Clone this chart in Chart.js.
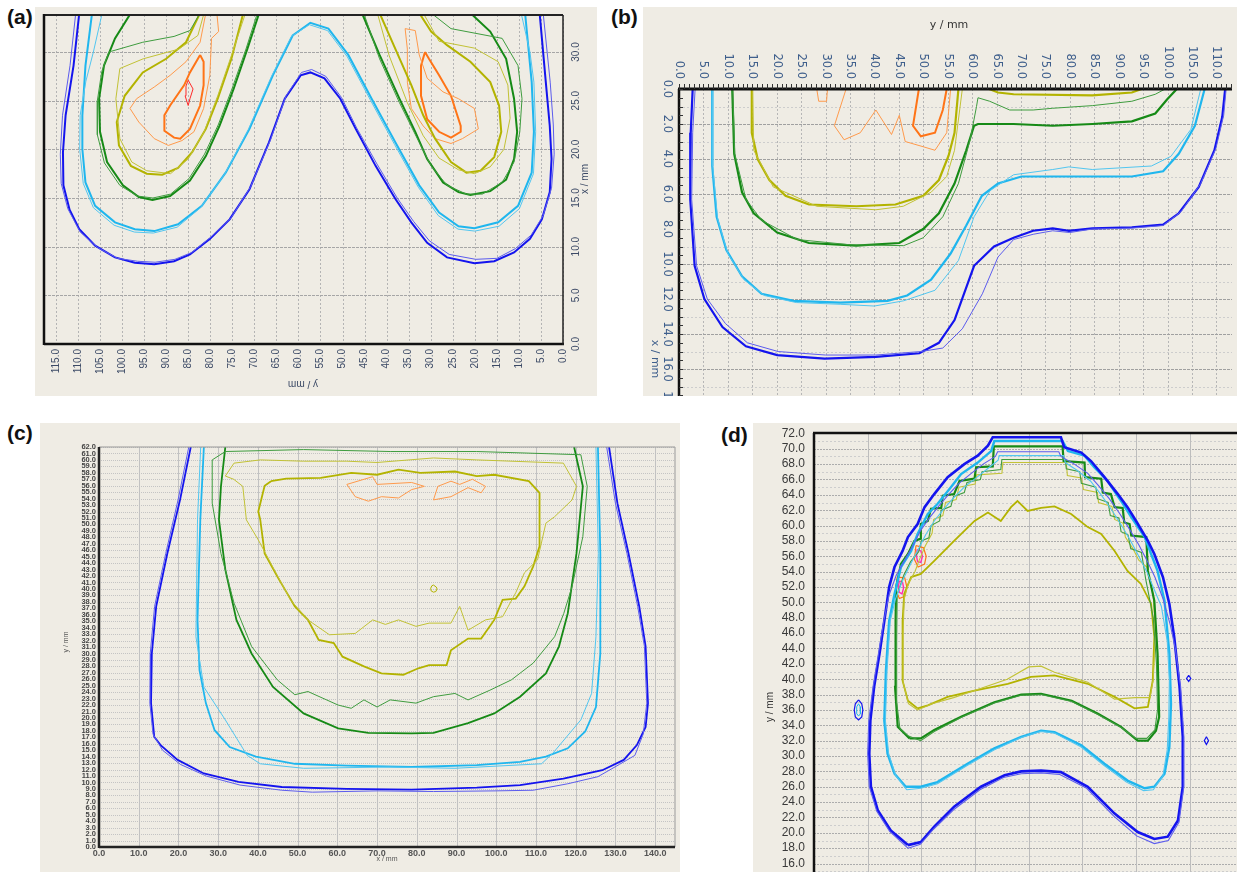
<!DOCTYPE html>
<html>
<head>
<meta charset="utf-8">
<script src="https://cdn.jsdelivr.net/npm/chart.js@4.4.1/dist/chart.umd.min.js"></script>
<style>
  body { margin: 0; background: #fff; width: 1237px; height: 872px; position: relative; overflow: hidden; }
  .box { position: absolute; }
  .tag { position: absolute; font: bold 21px "Liberation Sans", Arial, sans-serif; color: #111; }
</style>
</head>
<body>
<div class="tag" style="left:7px;top:5px">(a)</div>
<div class="tag" style="left:611px;top:5px">(b)</div>
<div class="tag" style="left:7px;top:421px">(c)</div>
<div class="tag" style="left:721px;top:423px">(d)</div>
<div class="box" style="left:35px;top:7px"><canvas id="ca" width="562" height="389"></canvas></div>
<div class="box" style="left:643px;top:7px"><canvas id="cb" width="594" height="389"></canvas></div>
<div class="box" style="left:40px;top:423px"><canvas id="cc" width="640" height="449"></canvas></div>
<div class="box" style="left:753px;top:423px"><canvas id="cd" width="484" height="449"></canvas></div>
<script>
// ---------- tick labels ----------
const aTicksX = [0,5,10,15,20,25,30,35,40,45,50,55,60,65,70,75,80,85,90,95,100,105,110,115];
const aTicksY = [0,5,10,15,20,25,30];
const bTicksX = [0,5,10,15,20,25,30,35,40,45,50,55,60,65,70,75,80,85,90,95,100,105,110];
const bTicksY = [0,2,4,6,8,10,12,14,16,18];
const cTicksX = [0,10,20,30,40,50,60,70,80,90,100,110,120,130,140];
const cTicksY = [0,1,2,3,4,5,6,7,8,9,10,11,12,13,14,15,16,17,18,19,20,21,22,23,24,25,26,27,28,29,30,
  31,32,33,34,35,36,37,38,39,40,41,42,43,44,45,46,47,48,49,50,51,52,53,54,55,56,57,58,59,60,61,62];
const dTicksY = [16,18,20,22,24,26,28,30,32,34,36,38,40,42,44,46,48,50,52,54,56,58,60,62,64,66,68,70,72];

// ---------- panel (a): isodose lines, [y/mm, x/mm] ----------
const aBlue = [[109.7,34],[111,28.6],[112.8,23.5],[113.4,19.7],[113.3,16.3],[111.9,13.8],[109.7,11.8],[106.1,10.1],[101.6,8.9],[97.1,8.35],[92.7,8.2],[88.2,8.5],[84.6,9.2],[80.1,10.8],[75.6,12.8],[71.1,15.9],[66.7,20.7],[63.1,25.2],[59.5,27.6],[57.3,27.9],[54.1,27.3],[50.5,25.2],[47,22.1],[42.5,18.3],[38,14.9],[34.4,12.5],[30.8,10.4],[26.3,8.9],[20.1,8.3],[15.6,8.5],[11.1,9.4],[7.5,10.8],[4.8,12.8],[3,15.6],[2.6,19],[3,22.4],[3.9,26.9],[5.3,34]];
const aBlueThin = [[110.5,34],[111.8,28.6],[113.5,23.5],[114,19.5],[113.8,16.5],[112.3,13.9],[109.5,11.5],[105.5,9.9],[101,8.8],[96.5,8.5],[92.5,8.4],[88,8.7],[84.2,9.4],[79.8,11],[75.2,13],[70.8,16.2],[66.3,21],[62.8,25.5],[59.3,27.9],[57,28.2],[53.8,27.5],[50.2,25.3],[46.8,22.2],[42.2,18.5],[37.6,15],[33.9,12.6],[30.3,10.6],[25.8,9.2],[19.8,8.7],[15,8.8],[10.8,9.8],[7.2,11.2],[4.5,13.2],[2.6,16],[2,19.5],[2.2,22.5],[2.9,26.9],[4.5,34]];
const aCyan = [[106.8,34],[108.3,28.6],[109,23.5],[109,20],[108.3,16.6],[106.1,14.2],[101.6,12.5],[97.1,11.8],[92.7,11.6],[87.3,12.3],[81.9,14.2],[76.5,17.6],[71.1,22.1],[65.8,27.6],[61.3,31.7],[57.3,33],[53.2,32.4],[48.7,29.7],[43.4,25.2],[38,20.7],[32.6,16.3],[28.1,13.5],[23.7,12.1],[20.1,11.9],[14.7,12.5],[10.2,14.2],[7.1,17.6],[6.6,21.8],[7.1,26.9],[8.6,34]];
const aCyanThin = [[104.5,34],[106.5,30],[108.2,27],[109.5,23.5],[109.6,20],[108.8,16.5],[106.5,14],[101.8,12.2],[97.2,11.5],[92.9,11.4],[87.5,12],[82.2,14],[76.8,17.4],[71.4,22],[66.1,27.5],[61.6,31.6],[57.5,32.8],[53.4,32.2],[48.9,29.5],[43.6,25],[38.2,20.5],[32.8,16.1],[28.3,13.2],[23.8,11.8],[20,11.6],[14.5,12.1],[9.9,13.9],[6.7,17.5],[6.2,21.8],[6.6,26.9],[7.5,30],[9.5,34]];
const aGreen = [[98,34],[101.6,31.4],[104.1,28.6],[105.2,25.2],[105,21.8],[103.4,18.7],[99.8,16.3],[96.2,15.1],[93.1,14.8],[89.1,15.2],[84.6,16.8],[81,19.3],[77.9,22.4],[74.7,26.2],[71.6,30.3],[68.9,34]];
const aGreenThin = [[82.3,34],[84.6,32.2],[88.2,31.6],[95.3,31],[103,30],[104.6,28],[105.6,25],[105.6,21.5],[104,18.6],[100.5,16.3],[96.5,15.2],[93,15],[89,15.4],[84.8,17],[81.3,19.5],[78.2,22.5],[75,26.3],[71.9,30.3],[69.3,34]];
const aGreenR = [[45.6,34],[41.6,29.7],[37.1,25.2],[33.5,21.8],[30.8,19],[27.2,16.6],[23.7,15.6],[21,15.3],[16.5,15.7],[12.9,16.9],[11.1,19],[10.4,21.8],[11.1,25.2],[12.9,29.3],[16.5,32.1],[21,34]];
const aGreenThinR = [[29.9,34],[25.4,32.4],[13.8,31.4],[10.2,28.6],[9.3,25.2],[9.8,21.8],[11.1,18.7],[13.8,16.6],[18.3,15.4],[21.9,15.4],[26.3,16.3],[29.9,18.3],[32.6,20.7],[37.1,24.8],[41.6,29.3],[45.2,34]];
const aOlive = [[82.3,34],[85.5,31],[90,29.3],[95.3,27.9],[99.4,25.5],[101.2,22.8],[100.7,20.4],[98,18.3],[94.4,17.5],[90.9,17.4],[87.3,18.1],[84.1,19.7],[81,22.1],[78.3,25.2],[75.2,29.3],[72.5,34]];
const aOliveThin = [[81.4,34],[82.8,31.7],[87.1,30.3],[95.2,29.3],[100.5,28.3],[101.4,25.2],[100.5,21.1],[97.8,18.7],[94.4,17.8],[89,17.5],[85,19],[81.4,21.8],[78.3,25.5],[74.7,30.3],[72,34]];
const aOliveR = [[41.6,34],[38,30.3],[34.4,26.6],[31.7,23.5],[29,21.1],[25.4,18.7],[21.9,17.6],[18.7,17.8],[15.6,19.2],[14,21.8],[14.5,24.5],[16.5,26.9],[21,29],[26.3,30.7],[29.9,32.1],[32.6,34]];
const aOliveThinR = [[31.7,34],[28.1,31.1],[20.1,30.4],[14.7,29],[12.5,26.6],[12,23.2],[13.4,20],[16.5,18.2],[20.1,17.5],[23.7,17.9],[28.1,19.1],[31.7,21.4],[35.3,24.8],[39.4,29.6],[42.1,34]];
const aOrangeThin = [[78.5,34],[78.1,32.1],[79.7,31.4],[80.1,27.6],[81.5,24.2],[83.7,21.8],[86.4,20.9],[89.5,20.4],[92.7,21.1],[96.2,22.8],[98.2,24.2],[96.7,25.2],[92.7,26.4],[89.1,27.6],[85.5,29],[82.3,31],[81,34]];
const aOrange = [[82.3,29.7],[81.5,29],[81.5,26.6],[82.3,24.5],[84.6,22.1],[86.8,21.1],[88.2,21.2],[90.4,21.9],[90.4,23.5],[89.1,24.5],[85.9,26.6],[84.6,27.9],[82.3,29.7]];
const aRed = [[85,27.1],[83.9,26.2],[84.6,25.2],[85,24.5],[85.7,25.5],[85.5,26.5],[85,27.1]];
const aOrangeThinR = [[35.8,32.4],[33.5,32.2],[32.6,29.7],[30.8,27.3],[27.2,25.9],[23.7,25.2],[20.1,24.2],[19.2,22.1],[22.8,21.1],[25.4,20.6],[29,21.1],[31.7,22.4],[34.4,24.2],[35.3,26.9],[35.3,30.3],[35.8,32.4]];
const aOrangeR = [[31.3,30],[30.4,29.3],[28.1,27.6],[25.4,25.5],[23.2,22.4],[23.2,21.8],[25.4,21.2],[28.1,21.8],[30.8,23.1],[32.2,25.5],[32.2,28.6],[31.3,30]];

// ---------- panel (b): [y/mm, x/mm] ----------
const bBlue = [[2.8,0],[2.4,2.5],[2.3,6.3],[3.2,10.1],[5.2,12],[8.9,13.6],[13.7,14.7],[20.1,15.2],[29.8,15.4],[40.3,15.3],[49.2,15.1],[53.2,14.5],[56.4,13.2],[60.4,10.1],[64.5,9],[68.5,8.5],[72.5,8.1],[76.5,7.96],[79.8,8.1],[84.6,7.96],[92.7,7.9],[99.1,7.75],[102.3,7.1],[106.4,5.6],[109.6,3.5],[111.2,1.6],[111.8,0]];
const bBlueThin = [[3.3,0],[2.8,2.5],[2.6,6.3],[3.6,10.1],[5.8,12],[9.5,13.4],[14,14.5],[20.3,15],[30,15.2],[40.3,15.2],[49.5,15],[54,14.8],[58,13.7],[62.1,11.7],[65.3,9.6],[68.5,8.6],[72.5,8.3],[76.5,8.1],[80,8.2],[84.6,8],[92.7,7.95],[99.1,7.8],[102.8,7],[106.8,5.4],[109.9,3.4],[111.5,1.5],[112,0]];
const bCyan = [[6.8,0],[6.8,4.4],[7.7,7.3],[9.7,9.2],[12.9,10.7],[16.9,11.7],[23.4,12.1],[33,12.2],[42.7,12.1],[46.7,11.8],[51.6,10.9],[55.6,9.4],[58.8,7.8],[62,6.1],[65.3,5.4],[70.1,5],[76.5,5],[84.6,5],[92.7,5],[99.1,4.7],[102.3,3.7],[105.6,2.1],[107.6,0]];
const bCyanThin = [[6.9,0],[6.9,4.4],[7.9,7.4],[10,9.4],[13.3,10.9],[17.5,11.8],[24,12.2],[33,12.3],[40,12.4],[46,12.1],[52.4,11.5],[57.2,9.8],[60.4,7.3],[63.7,5.8],[68.5,4.9],[76.5,4.6],[79.8,4.45],[84.6,4.6],[96.7,4.4],[100.7,3.85],[104.8,2.3],[106.8,0]];
const bGreen = [[10.9,0],[11.3,3.7],[12.9,5.9],[15.3,7.1],[20.1,8.2],[26.6,8.8],[36.3,8.95],[45.1,8.8],[50,8],[53.2,7.1],[56.4,5.4],[58.8,3.5],[60.4,2.1],[61.2,2],[68.5,2],[76.5,2.1],[84.6,2],[92.7,1.85],[97.5,1.4],[99.9,0.6],[101.9,0]];
const bGreenThin = [[11,0],[11.4,3.7],[13.7,6.3],[16.9,7.5],[24.2,8.6],[35,8.9],[46,8.95],[50,8.5],[54,7.3],[57.2,5.4],[59.6,2.9],[60.9,1],[61.2,0.5],[63.6,0.7],[67.7,1.2],[72.5,1.2],[76.5,1.1],[84.6,0.95],[92.7,0.7],[97.5,0.3],[99.5,0]];
const bOlive = [[14.9,0],[14.9,2.5],[16.1,4],[18.5,5.2],[21.8,6.1],[26.6,6.6],[36.3,6.7],[44.3,6.6],[50,6.1],[53.2,5.2],[55.2,3.8],[56.4,2.5],[57.2,0]];
const bOliveThin = [[15.1,0],[15.3,3.5],[19.3,5.6],[22.6,6],[28.2,6.7],[40.3,6.9],[45.9,6.7],[51.6,5.9],[54.8,5],[56.4,3.5],[58,0]];
const bOliveTop = [[63.5,0],[65.3,0.2],[68.5,0.3],[84.6,0.36],[92.7,0.2],[94.7,0]];
const bOrangeThin = [[34.2,0],[31.8,2.1],[33.8,2.9],[37.1,2.5],[40.3,1.2],[43.5,2.6],[45.1,1.5],[46.3,3],[50,3.3],[52.4,3.5],[54.8,2.5],[55.6,0]];
const bOrangeSmall = [[28.2,0],[28.6,0.7],[30.2,0.7],[30.4,0]];
const bOrange = [[49.1,0],[47.9,2.1],[49.5,2.7],[52.4,2.5],[54,1.2],[54.8,0]];

// ---------- panel (c): [x/mm, y/mm] ----------
const cBlue = [[23.1,62],[20.4,53.8],[17.2,45.5],[14.4,37.3],[13.3,30],[13.1,22.3],[13.9,17.1],[15.5,15.8],[19.8,13.5],[26.4,11.4],[35.1,10.1],[46,9.3],[62.4,9],[78.7,8.9],[95.1,9.2],[106,9.6],[116.9,10.6],[126.7,11.9],[132.1,13.5],[135.4,15.8],[137.6,18.6],[138.2,22.3],[137.6,31.1],[136,37.3],[133.3,45.5],[130.5,53.3],[128.4,62]];
const cBlueThin = [[22.6,62],[19.9,53.8],[16.8,45.5],[14,37.3],[12.9,30],[12.8,22.3],[13.6,17.5],[16,15],[20.5,12.8],[27,11],[35.5,9.6],[46,8.8],[53.7,8.5],[70,8.7],[84.2,8.6],[100,8.7],[109.3,8.8],[118,9.8],[125.6,10.9],[131,12.8],[134.9,14.2],[137,17.5],[137.9,22.3],[137.3,31.1],[135.6,37.3],[132.9,45.5],[130,53.3],[127.8,62]];
const cCyan = [[26.4,62],[25.5,50.7],[24.8,35.2],[25.3,27.4],[26.9,22.3],[29.1,18.1],[32.9,15.5],[39.5,14],[49.3,12.9],[62.4,12.6],[78.7,12.4],[95.1,12.7],[106,13.2],[112.5,14],[118,15.3],[122.4,17.9],[125.1,21.7],[126.2,30],[126.2,45.5],[125.6,62]];
const cCyanThin = [[25.6,62],[24.8,50.7],[24.4,32.6],[26.4,24.8],[31.8,19.7],[37.3,14.2],[40.6,12.9],[51.5,12.2],[73.3,12.4],[89.6,12.2],[111.4,12.9],[114.2,14.5],[121.3,19.7],[124,23.8],[125.1,32.6],[125.7,45.5],[125.1,62]];
const cGreen = [[31.8,62],[30.7,55.9],[30.2,50.7],[31.8,43],[34.6,35.2],[38.4,30],[43.8,24.8],[51.5,20.7],[60.2,18.4],[67.8,17.7],[78.7,17.6],[84.2,17.7],[92.9,19.2],[99.5,20.7],[106,23.3],[112.5,26.9],[115.8,31.1],[118,36.2],[120.2,45.5],[121.8,55.9],[119.6,62]];
const cGreenThin = [[28.5,60],[31.8,61.3],[51.5,61.6],[73.3,61.3],[95.1,61.3],[121.3,60.8],[122.9,55.9],[121.8,48.1],[119.1,40.4],[117,36.2],[114.7,32.6],[109.3,28.5],[103.8,25.9],[98.4,24.3],[92.9,22.8],[89.6,23.8],[84.2,23.3],[79.8,22.3],[73.3,22.8],[70,21.7],[66.7,22.8],[63.5,21.5],[60.2,22],[52.6,24.1],[49.3,23.6],[44.9,25.9],[38.4,31.1],[34,37.8],[30.7,45.5],[28.5,53.3],[28.5,60]];
const cOlive = [[43.3,56.7],[47.1,57.1],[55.8,57.2],[63.5,58],[70,57.7],[75.4,58.5],[80.9,58],[89.6,58.2],[95.1,57.5],[99.5,57.7],[108.2,56.7],[110.9,54.9],[110.9,46.6],[109.3,43.5],[107.1,40.4],[104.9,38.5],[101.6,38.3],[99.5,35.2],[96.2,32.3],[92.9,32.3],[88.6,30.5],[87.5,28.2],[83.1,28.2],[80.4,27.7],[76.6,26.7],[71.1,26.9],[66.7,28],[61.3,29.5],[59.1,31.6],[55.3,32.1],[52.6,35.2],[49.3,37.3],[44.9,41.9],[41.7,45.5],[40.6,50.7],[40.1,52],[41.7,56],[43.3,56.7]];
const cOliveThin = [[31.8,57.5],[34,59.5],[40.6,60],[51.5,59.8],[62.4,59.8],[70,59.6],[84.2,60.3],[95.1,60],[116.9,59.5],[120.2,55.9],[119.1,53.8],[114.7,51.2],[112.5,50.2],[110.4,44.5],[107.1,42.5],[104.9,39.4],[101.6,35.7],[97.3,35.2],[92.9,33.6],[90.8,37.3],[88.6,34.7],[83.1,34.7],[79.8,34.2],[75.4,35.2],[72.1,34.5],[68.9,35.2],[64.5,33.1],[58,32.9],[52.6,35.2],[48.2,38.3],[40.1,47.6],[37.1,50.7],[36.2,55.9],[33.9,57],[31.8,57.5]];
const cOrangeL = [[62.4,56.2],[68.9,57.4],[70,56.2],[78.7,56.5],[81.9,55.9],[78.7,55.4],[75.4,54.1],[71.1,54.3],[67.8,53.6],[64.5,54.3],[62.4,56.2]];
const cOrangeR = [[85.3,55.9],[88.6,56.7],[90.8,56.2],[94,57],[97.3,55.9],[96.2,54.9],[92.9,55.7],[88.6,54.3],[84.2,53.8],[85.3,55.9]];
const cOliveDot = [[84.2,40.6],[84.9,40.3],[85.1,40],[84.8,39.6],[84.2,39.5],[83.6,39.7],[83.5,40.1],[83.8,40.5],[84.2,40.6]];

// ---------- panel (d): [x, y/mm] ----------
const dBlue = [[17.5,18.4],[14.3,20.3],[11.9,22.9],[10.6,26],[10.3,30.3],[10.5,34.6],[11.2,39],[12.2,43.3],[13.1,47.6],[14,52],[15,54.6],[16.5,56.7],[17.5,58.5],[19.3,60.2],[20.6,62.4],[22.4,64.1],[24.9,66.3],[28,68],[30.5,69.1],[32.4,70.4],[33.3,71.5],[46,71.5],[46.6,70.2],[49.8,69.5],[51.6,68.4],[54.1,66.3],[56.6,64.1],[58.4,62.4],[60,60.6],[62.2,58],[63.4,56.3],[65,53.3],[66.2,49.8],[67.1,45.5],[68.1,39],[68.7,32.5],[68.7,26],[67.8,21.6],[65.9,19.5],[63.4,19.2],[60.3,20.1],[56,22.5],[51,26],[46,27.9],[42.3,28.1],[38.6,28],[35.5,27.5],[31.1,26],[26.1,23.4],[22.4,20.8],[19.9,18.8],[17.5,18.4]];
const dBlueThin = [[17.5,18],[14.1,20.2],[11.7,22.8],[10.3,26],[10,30.3],[10.2,34.6],[11,39],[12,43.3],[13,47.6],[14,51],[15.3,53.5],[17,55.6],[18.5,57.5],[19.8,59.3],[21.5,61],[23.2,62.5],[25,64],[27,65.5],[29.3,66.8],[31.5,68],[33.8,69],[34.2,69.6],[45.6,69.6],[46,69],[48.5,68],[51,66.8],[53,65.2],[55,63.5],[57,61.5],[58.8,59.5],[60.5,57.5],[62,55.5],[63.5,53.3],[65,50.5],[66.4,47],[67.3,44],[68.3,39],[68.9,32.5],[68.9,26],[68,21.4],[66,19],[63.4,18.6],[60.1,19.6],[55.8,22.2],[50.8,25.8],[45.8,27.6],[42.3,27.8],[38.6,27.7],[35.3,27.2],[30.9,25.6],[26,23],[22.3,20.5],[19.8,18.5],[17.5,18]];
const dCyan = [[17.1,26],[15,27.7],[13.7,30.3],[13.1,34.6],[13.4,41.1],[14,47.6],[15,51.1],[16.2,54.6],[18.1,56.7],[19.3,58.9],[21.2,61.5],[23,62.8],[25.5,65],[27.4,66.7],[30.5,68.2],[33,69.7],[33.6,71],[46.3,71],[47.3,69.7],[50.4,69.1],[52.2,67.6],[54.7,65.8],[57.2,63.2],[59.1,61.1],[61.6,58.5],[62.8,56.3],[64,54.1],[65.3,50.2],[66.2,43.3],[66.5,36.8],[66.2,31.2],[65.3,27.7],[63.4,26],[61.6,25.8],[58.4,26.8],[54.1,29],[49.8,31.4],[44.8,33.1],[42.3,33.3],[38.6,32.5],[33.6,31],[28.6,29],[23,26.6],[19.9,26],[17.1,26]];
const dCyanThin = [[17.3,25.6],[15.2,27.5],[13.9,30.3],[13.3,34.6],[13.6,41.1],[14.2,47.6],[15.2,50.5],[16.6,53],[18,55],[19.5,57],[20.8,58.8],[22.4,60.6],[24,62],[26,63.6],[28,65],[30.2,66.2],[32.5,67.5],[34.3,68.5],[34.5,69.1],[46.5,69.1],[46.8,68.2],[49,67.2],[51.5,65.8],[53.5,64],[55.5,62],[57.3,60],[59,58],[60.5,56],[62,54],[63.3,51.8],[64.7,49.5],[65.8,45],[66.2,40],[66.1,35],[65.8,30.8],[65,27.4],[63.2,25.6],[61.4,25.5],[58.2,26.6],[54,28.8],[49.7,31.2],[44.8,33],[42.3,33.2],[38.6,32.4],[33.6,30.8],[28.6,28.8],[23,26.4],[19.9,25.8],[17.3,25.6]];
const dGreen = [[17.8,32.3],[15.6,33.8],[15.1,39],[15.2,47.6],[15.3,52],[16.2,55],[17.5,56.3],[18.7,58],[19.9,58.3],[19.9,60.2],[21.2,60.6],[21.8,62.2],[23.7,62.3],[24,63.9],[26.1,64.1],[27.1,65.8],[29.9,66.1],[30.2,67.6],[33.3,67.7],[33.5,70.3],[46.3,70.3],[46.5,68.4],[50.4,68.2],[50.5,66.3],[53.5,66.1],[53.8,64.3],[55.3,64.1],[56,62.4],[57.5,62.3],[57.8,60.4],[58.8,60.2],[59.1,58.7],[61.9,58.5],[62.2,54.1],[63.4,50.2],[64,43.3],[64.3,35.1],[63.7,33.3],[62.2,32],[60.3,32],[57.2,33.8],[52.9,35.5],[48,37.2],[42.3,38.1],[38.6,38],[33.6,37],[27.4,35.1],[22.4,33.4],[19.9,32.3],[17.8,32.3]];
const dGreenThin = [[19.9,32],[17.6,32.6],[16,33.6],[15.4,37],[15.4,45],[15.5,51],[16.7,53.5],[18,55.3],[19.5,56.6],[20,58],[21.4,58.4],[21.8,60],[23.4,60.6],[23.7,62],[25.5,62.5],[26,63.8],[28,64.3],[28.5,65.6],[31,66],[31.3,67],[34.8,67.3],[35,68.6],[46.8,68.6],[47,67.4],[49.5,67],[49.8,65.5],[52.5,65],[52.8,63.5],[54.8,63],[55.2,61.3],[56.8,61],[57.2,59.2],[58.5,58.8],[59,57],[61,56.5],[61.8,53],[63.2,48],[63.8,42],[64,36],[63.5,33.4],[62,32.3],[60,32.3],[57.2,33.7],[52.9,35.4],[48,37.1],[42.3,38],[38.6,37.9],[33.6,36.9],[27.4,35],[22.4,33.2],[19.9,32]];
const dOlive = [[19.3,36.2],[17.5,37.2],[16.5,39.8],[16.5,47.6],[16.8,51.1],[18.1,53.3],[19.9,53.7],[22.4,55.4],[26.1,58],[29.9,60.6],[32.4,61.7],[34.8,60.6],[36.7,62.4],[37.9,63.2],[39.8,61.9],[42.3,62.3],[44.8,62.5],[47.9,61.5],[51,59.8],[53.5,58.9],[56,56.7],[58.4,54.1],[60.9,52.4],[62.8,49.8],[63.4,45.5],[63.1,39.8],[62.2,36.4],[59.7,36.2],[56,37.7],[51,39.4],[44.8,40.5],[40.4,40.3],[36.1,39.4],[29.9,38.5],[24.9,37.7],[21.2,36.6],[19.3,36.2]];
const dOliveThin = [[19.3,36],[17.6,36.8],[16.6,39.6],[16.6,46],[16.8,50.5],[17.6,52.5],[18.8,54],[19.6,55.5],[20.7,57.3],[22,59],[22.3,60.8],[24,61.3],[24.5,63],[26.5,63.4],[27,65],[30,65.4],[30.3,66.6],[35,66.8],[35.2,68.2],[47,68.2],[47.2,66.5],[49.8,66.2],[50.2,64.7],[52.8,64.3],[53,63],[55.5,62.5],[56,60.8],[57.6,60.3],[58,58.5],[59.4,57],[60.5,55.5],[62,54.6],[63.2,51],[63.6,46],[63.2,40],[62.6,37.6],[59.8,37.6],[56,37.4],[51,39.6],[44.8,40.9],[42.3,41.7],[40,41.6],[36,40],[31,38.8],[26,37.6],[22,36.8],[19.3,36]];
const dRed1 = [[15.9,52.8],[16.5,52.6],[16.7,51.9],[16.4,51.1],[15.9,51.3],[15.7,52],[15.9,52.8]];
const dRed2 = [[19.2,56.9],[19.9,56.7],[20.2,56],[19.9,55.2],[19.3,55.3],[19.1,56],[19.2,56.9]];
const dOrange1 = [[15.5,53.3],[16.9,53.2],[17.3,52],[16.9,50.8],[15.9,50.5],[15.3,51.5],[15.5,53.3]];
const dOrange2 = [[19,57.4],[20.4,57.1],[20.9,56],[20.6,55],[19.4,54.6],[18.7,55.6],[19,57.4]];
const dIsleBlue = [[8.3,37.3],[8.9,36.8],[9.1,36],[8.9,35.1],[8.3,34.7],[7.7,35.1],[7.5,36],[7.7,36.8],[8.3,37.3]];
const dIsleCyan = [[8.3,36.8],[8.6,36.4],[8.7,36],[8.6,35.5],[8.3,35.2],[8,35.5],[7.9,36],[8,36.4],[8.3,36.8]];
const dDot1 = [[69.8,40.5],[70.2,40.1],[69.8,39.7],[69.4,40.1],[69.8,40.5]];
const dDot2 = [[73.1,32.5],[73.5,32],[73.1,31.5],[72.7,32],[73.1,32.5]];

// ---------- colours ----------
const BLUE = '#1414ee', BLUE_T = '#5c5cee';
const CYAN = '#1fb6ee', CYAN_T = '#52c6f0';
const GREEN = '#168a16', GREEN_T = '#3f9c3f';
const OLIVE = '#b3b300', OLIVE_T = '#c2c236';
const ORANGE = '#ff7417', ORANGE_T = '#ff9a4c';
const RED = '#ff2a2a', PINK = '#ff2fb0';
const BG = '#efece4';

function curve(pts, color, w) {
  return {
    data: pts.map(p => ({ x: p[0], y: p[1] })),
    borderColor: color, borderWidth: w,
    showLine: true, pointRadius: 0, fill: false, tension: 0
  };
}

// grid lines at a list of values
function gridLines(ctx, a, sc, vals, color, dash) {
  ctx.save();
  ctx.strokeStyle = color; ctx.lineWidth = 1; ctx.setLineDash(dash);
  vals.forEach(v => {
    const p = Math.round(sc.getPixelForValue(v)) + 0.5;
    ctx.beginPath();
    if (sc.isHorizontal()) { ctx.moveTo(p, a.top); ctx.lineTo(p, a.bottom); }
    else { ctx.moveTo(a.left, p); ctx.lineTo(a.right, p); }
    ctx.stroke();
  });
  ctx.restore();
}

function tickLabels(ctx, sc, vals, o) {
  ctx.save();
  ctx.font = o.font; ctx.fillStyle = o.color;
  vals.forEach(v => {
    const p = sc.getPixelForValue(v);
    ctx.save();
    if (sc.isHorizontal()) ctx.translate(p, o.at); else ctx.translate(o.at, p);
    ctx.rotate(o.rot || 0);
    ctx.textAlign = o.align; ctx.textBaseline = 'middle';
    ctx.fillText(v.toFixed(1), 0, 0);
    ctx.restore();
  });
  ctx.restore();
}

function title(ctx, text, x, y, rot, font, color) {
  ctx.save();
  ctx.translate(x, y); ctx.rotate(rot);
  ctx.font = font; ctx.fillStyle = color;
  ctx.textAlign = 'center'; ctx.textBaseline = 'middle';
  ctx.fillText(text, 0, 0);
  ctx.restore();
}

function edge(ctx, x1, y1, x2, y2, w, color) {
  ctx.save();
  ctx.strokeStyle = color; ctx.lineWidth = w;
  ctx.beginPath(); ctx.moveTo(x1, y1); ctx.lineTo(x2, y2); ctx.stroke();
  ctx.restore();
}

function range(from, to, step) {
  const out = [];
  for (let v = from; v <= to + 1e-9; v += step) out.push(+v.toFixed(3));
  return out;
}

function makeChart(id, datasets, xs, ys, pad, under, over) {
  return new Chart(document.getElementById(id), {
    type: 'scatter',
    data: { datasets },
    options: {
      responsive: false, animation: false, events: [],
      layout: { padding: pad },
      plugins: { legend: { display: false }, tooltip: { enabled: false } },
      scales: {
        x: Object.assign({ type: 'linear', display: false }, xs),
        y: Object.assign({ type: 'linear', display: false }, ys)
      }
    },
    plugins: [{
      id: 'deco',
      beforeDraw(chart) {
        const ctx = chart.ctx;
        ctx.save(); ctx.fillStyle = BG; ctx.fillRect(0, 0, chart.width, chart.height); ctx.restore();
        under(chart, ctx, chart.chartArea, chart.scales.x, chart.scales.y);
      },
      afterDraw(chart) {
        over(chart, chart.ctx, chart.chartArea, chart.scales.x, chart.scales.y);
      }
    }]
  });
}

// ---------- (a) ----------
makeChart('ca', [
  curve(aBlueThin, BLUE_T, 1), curve(aBlue, BLUE, 2),
  curve(aCyanThin, CYAN_T, 1), curve(aCyan, CYAN, 2),
  curve(aGreenThin, GREEN_T, 1), curve(aGreen, GREEN, 2),
  curve(aGreenThinR, GREEN_T, 1), curve(aGreenR, GREEN, 2),
  curve(aOliveThin, OLIVE_T, 1), curve(aOlive, OLIVE, 2),
  curve(aOliveThinR, OLIVE_T, 1), curve(aOliveR, OLIVE, 2),
  curve(aOrangeThin, ORANGE_T, 1), curve(aOrange, ORANGE, 2),
  curve(aOrangeThinR, ORANGE_T, 1), curve(aOrangeR, ORANGE, 2),
  curve(aRed, RED, 1)
], { min: 0, max: 117.7, reverse: true }, { min: 0, max: 33.8 },
  { left: 9, top: 8, right: 34, bottom: 52 },
  (c, ctx, a, x, y) => {
    gridLines(ctx, a, x, aTicksX, '#b4b4b4', [2, 2]);
    gridLines(ctx, a, y, aTicksY, '#a6a6a6', [3, 1]);
  },
  (c, ctx, a, x, y) => {
    edge(ctx, a.left, a.top, a.right, a.top, 2, '#222');
    edge(ctx, a.left, a.top - 1, a.left, a.bottom + 1, 2.5, '#111');
    edge(ctx, a.left, a.bottom, a.right + 1, a.bottom, 2.5, '#111');
    edge(ctx, a.right, a.top, a.right, a.bottom + 1, 1.5, '#222');
    const f = '10px "Liberation Sans", Arial, sans-serif';
    tickLabels(ctx, x, aTicksX, { font: f, color: '#3c4a66', at: a.bottom + 5, rot: -Math.PI / 2, align: 'right' });
    tickLabels(ctx, y, aTicksY, { font: f, color: '#3c4a66', at: a.right + 13, rot: -Math.PI / 2, align: 'center' });
    title(ctx, 'x / mm', a.right + 22, 172, -Math.PI / 2, f, '#3c4a66');
    title(ctx, 'y / mm', 268, 377, Math.PI, f, '#3c4a66');
  });

// ---------- (b) ----------
makeChart('cb', [
  curve(bBlueThin, BLUE_T, 1), curve(bBlue, BLUE, 2.2),
  curve(bCyanThin, CYAN_T, 1), curve(bCyan, CYAN, 2.2),
  curve(bGreenThin, GREEN_T, 1), curve(bGreen, GREEN, 2.2),
  curve(bOliveThin, OLIVE_T, 1), curve(bOlive, OLIVE, 2.2), curve(bOliveTop, OLIVE, 2.2),
  curve(bOrangeThin, ORANGE_T, 1), curve(bOrangeSmall, ORANGE_T, 1), curve(bOrange, ORANGE, 2)
], { min: 0, max: 113.2 }, { min: 0, max: 17.54, reverse: true },
  { left: 36, top: 82, right: 5, bottom: 0 },
  (c, ctx, a, x, y) => {
    gridLines(ctx, a, x, bTicksX, '#b6b6b6', [2, 2]);
    gridLines(ctx, a, y, range(1, 17, 2), '#cdcdcd', [2, 2]);
    gridLines(ctx, a, y, bTicksY, '#a0a0a0', [3, 1]);
  },
  (c, ctx, a, x, y) => {
    edge(ctx, a.left - 1, a.top, a.right, a.top, 3, '#111');
    edge(ctx, a.left, a.top, a.left, a.bottom, 2.5, '#111');
    ctx.save(); ctx.strokeStyle = '#333'; ctx.lineWidth = 1;
    range(0, 113, 1).forEach(v => { const p = Math.round(x.getPixelForValue(v)) + 0.5; ctx.beginPath(); ctx.moveTo(p, a.top - 5); ctx.lineTo(p, a.top); ctx.stroke(); });
    range(0, 17.5, 0.5).forEach(v => { const p = Math.round(y.getPixelForValue(v)) + 0.5; ctx.beginPath(); ctx.moveTo(a.left, p); ctx.lineTo(a.left + 4, p); ctx.stroke(); });
    ctx.restore();
    const f = '11.5px "DejaVu Sans", sans-serif';
    tickLabels(ctx, x, bTicksX, { font: f, color: '#3f5f8c', at: a.top - 10, rot: Math.PI / 2, align: 'right' });
    tickLabels(ctx, y, bTicksY, { font: f, color: '#3f5f8c', at: 24, rot: Math.PI / 2, align: 'center' });
    title(ctx, 'y / mm', 306, 18, 0, '11px "DejaVu Sans", sans-serif', '#333');
    title(ctx, 'x / mm', 12, 352, Math.PI / 2, '11px "DejaVu Sans", sans-serif', '#3f5f8c');
  });

// ---------- (c) ----------
makeChart('cc', [
  curve(cBlueThin, BLUE_T, 1), curve(cBlue, BLUE, 1.8),
  curve(cCyanThin, CYAN_T, 1), curve(cCyan, CYAN, 1.8),
  curve(cGreenThin, GREEN_T, 1), curve(cGreen, GREEN, 1.8),
  curve(cOliveThin, OLIVE_T, 1), curve(cOlive, OLIVE, 1.8), curve(cOliveDot, OLIVE, 1),
  curve(cOrangeL, ORANGE_T, 1), curve(cOrangeR, ORANGE_T, 1)
], { min: 0, max: 145 }, { min: 0, max: 62 },
  { left: 59, top: 24, right: 5, bottom: 25 },
  (c, ctx, a, x, y) => {
    gridLines(ctx, a, y, cTicksY, '#c4c4c4', [1, 1]);
    gridLines(ctx, a, x, cTicksX, '#c2c2c2', []);
  },
  (c, ctx, a, x, y) => {
    edge(ctx, a.left, a.top, a.right, a.top, 1, '#999');
    edge(ctx, a.right, a.top, a.right, a.bottom, 1, '#999');
    edge(ctx, a.left, a.top, a.left, a.bottom + 1, 2.5, '#222');
    edge(ctx, a.left, a.bottom, a.right, a.bottom, 2.5, '#222');
    tickLabels(ctx, y, cTicksY, { font: 'bold 7.5px "Liberation Sans", Arial, sans-serif', color: '#444', at: a.left - 3, align: 'right' });
    tickLabels(ctx, x, cTicksX, { font: 'bold 9px "Liberation Sans", Arial, sans-serif', color: '#555', at: a.bottom + 7, align: 'center' });
    title(ctx, 'x / mm', 347, 436, 0, '7px "Liberation Sans", Arial, sans-serif', '#555');
    title(ctx, 'y / mm', 26, 219, -Math.PI / 2, '7px "Liberation Sans", Arial, sans-serif', '#555');
  });

// ---------- (d) ----------
makeChart('cd', [
  curve(dBlueThin, BLUE_T, 1.1), curve(dBlue, BLUE, 2.6),
  curve(dCyanThin, CYAN_T, 1.1), curve(dCyan, CYAN, 2.4),
  curve(dGreenThin, GREEN_T, 1.1), curve(dGreen, GREEN, 2.2),
  curve(dOliveThin, OLIVE_T, 1.1), curve(dOlive, OLIVE, 1.8),
  curve(dOrange1, ORANGE, 1.2), curve(dOrange2, ORANGE, 1.2),
  curve(dRed1, PINK, 1.4), curve(dRed2, PINK, 1.4),
  curve(dIsleBlue, BLUE, 1.2), curve(dIsleCyan, CYAN, 1),
  curve(dDot1, BLUE, 1.2), curve(dDot2, BLUE, 1.2)
], { min: 0, max: 78.8 }, { min: 14.9, max: 72.05 },
  { left: 61, top: 10, right: 0, bottom: 0 },
  (c, ctx, a, x, y) => {
    gridLines(ctx, a, y, range(15, 71, 2), '#cdcdcd', [2, 2]);
    gridLines(ctx, a, y, dTicksY, '#acacac', [2, 1]);
    gridLines(ctx, a, x, range(10, 70, 10), '#bdbdbd', []);
  },
  (c, ctx, a, x, y) => {
    edge(ctx, a.left - 1, a.top, a.right, a.top, 2.5, '#111');
    edge(ctx, a.left, a.top, a.left, a.bottom, 2.5, '#111');
    tickLabels(ctx, y, dTicksY, { font: '12px "Liberation Sans", Arial, sans-serif', color: '#3a3a3a', at: a.left - 9, align: 'right' });
    title(ctx, 'y / mm', 17, 284, -Math.PI / 2, '10px "Liberation Sans", Arial, sans-serif', '#333');
  });
</script>
</body>
</html>
